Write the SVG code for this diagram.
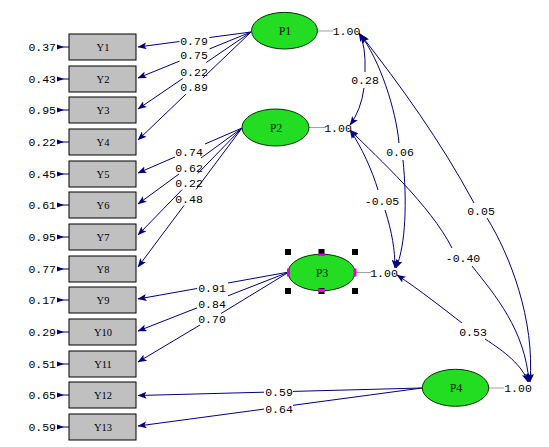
<svg xmlns="http://www.w3.org/2000/svg" width="549" height="447" viewBox="0 0 549 447">
<defs>
<marker id="ah" markerWidth="9" markerHeight="7" refX="8.5" refY="3.5" orient="auto" markerUnits="userSpaceOnUse"><path d="M0,0 L9,3.5 L0,7 L2,3.5 z" fill="#000080"/></marker>
</defs>
<style>
.box{fill:#c0c0c0;stroke:#000;stroke-width:1}
.lat{fill:#22dd22;stroke:#003300;stroke-width:1}
.yl{font-family:"Liberation Serif","Times New Roman",serif;font-size:10.5px;fill:#000;text-anchor:middle}
.pl{font-family:"Liberation Serif","Times New Roman",serif;font-size:12px;fill:#002000;text-anchor:middle}
.num{font-family:"Liberation Mono","Courier New",monospace;font-size:11.5px;fill:#000;text-anchor:middle}
.err{font-family:"Liberation Mono","Courier New",monospace;font-size:11.5px;fill:#000;text-anchor:end}
.ln{fill:none;stroke:#000080;stroke-width:1}
.lna{fill:none;stroke:#000080;stroke-width:1;marker-end:url(#ah)}
.var{fill:none;stroke:#a0a0a0;stroke-width:1}
.eh{fill:#000080}
.h{fill:#000}
.m{fill:#e000e0}
</style>
<g id="connectors">
<!-- P1 loadings -->
<path class="ln" d="M251,32 L209.5,37.5"/><path class="lna" d="M179.5,41.5 L138,47"/>
<path class="ln" d="M251,32 L209.5,48.9"/><path class="lna" d="M179.5,61.1 L138,78"/>
<path class="ln" d="M251,32 L206.2,62.5"/><path class="lna" d="M182.8,78.5 L138,109"/>
<path class="ln" d="M251,32 L202.9,78"/><path class="lna" d="M186.1,94 L138,140"/>
<!-- P2 loadings -->
<path class="ln" d="M242,128 L205,144"/><path class="lna" d="M175,157 L138,173"/>
<path class="ln" d="M242,128 L201,158"/><path class="lna" d="M179,174 L138,204"/>
<path class="ln" d="M242,128 L197.8,173.5"/><path class="lna" d="M182.2,189.5 L138,235"/>
<path class="ln" d="M242,128 L196,189.5"/><path class="lna" d="M184,205.5 L138,267"/>
<!-- P3 loadings -->
<path class="ln" d="M289,272 L228,283"/><path class="lna" d="M197,288.5 L138,299"/>
<path class="ln" d="M289,272 L228,295.8"/><path class="lna" d="M197,307.9 L138,331"/>
<path class="ln" d="M289,272 L221,313.5"/><path class="lna" d="M200,325 L138,362"/>
<!-- P4 loadings -->
<path class="ln" d="M422,388 L293,391.4"/><path class="lna" d="M264,392.2 L138,395.5"/>
<path class="ln" d="M422,388 L293,405.3"/><path class="lna" d="M264,409.1 L138,426"/>
<!-- variance lines -->
<path class="var" d="M318,31 H333"/>
<path class="var" d="M309,127.5 H326"/>
<path class="var" d="M356,272.5 H371"/>
<path class="var" d="M489,388 H504"/>
<!-- covariances -->
<path class="lna" d="M365,72 Q366,45 359,33"/><path class="lna" d="M364,88 Q361,110 350,125"/>
<path class="lna" d="M399,143 C396,110 380,60 360,34"/><path class="lna" d="M403,160 C407,200 406,245 396,268"/>
<path class="lna" d="M378,190 C372,170 362,148 350,130"/><path class="lna" d="M385,210 C392,232 395,250 395,268"/>
<path class="lna" d="M452,248 C430,205 380,160 350,130"/><path class="lna" d="M472,266 C495,295 525,330 529,382"/>
<path class="lna" d="M474,203 C440,140 400,85 361,35"/><path class="lna" d="M487,218 C510,255 535,320 530,382"/>
<path class="lna" d="M462,323 C445,310 420,290 397,275"/><path class="lna" d="M485,339 C505,352 522,365 528,382"/>
<!-- error arrows -->
<g id="errarrows">
<path class="ln" d="M57,47 H69 M57,79 H69 M57,110 H69 M57,142 H69 M57,174 H69 M57,205 H69 M57,237 H69 M57,269 H69 M57,300 H69 M57,332 H69 M57,364 H69 M57,395 H69 M57,427 H69"/>
<path class="eh" d="M57,44.5 L64,47 L57,49.5z M57,76.5 L64,79 L57,81.5z M57,107.5 L64,110 L57,112.5z M57,139.5 L64,142 L57,144.5z M57,171.5 L64,174 L57,176.5z M57,202.5 L64,205 L57,207.5z M57,234.5 L64,237 L57,239.5z M57,266.5 L64,269 L57,271.5z M57,297.5 L64,300 L57,302.5z M57,329.5 L64,332 L57,334.5z M57,361.5 L64,364 L57,366.5z M57,392.5 L64,395 L57,397.5z M57,424.5 L64,427 L57,429.5z"/>
</g>
</g>
<g id="labels">
<text class="num" x="194" y="45">0.79</text>
<text class="num" x="194" y="59">0.75</text>
<text class="num" x="194" y="76">0.22</text>
<text class="num" x="194" y="91">0.89</text>
<text class="num" x="189" y="156">0.74</text>
<text class="num" x="189" y="172">0.62</text>
<text class="num" x="189" y="187">0.22</text>
<text class="num" x="189" y="203">0.48</text>
<text class="num" x="212" y="292">0.91</text>
<text class="num" x="212" y="308">0.84</text>
<text class="num" x="212" y="323">0.70</text>
<text class="num" x="279" y="396">0.59</text>
<text class="num" x="279" y="413">0.64</text>
<text class="num" x="365" y="84">0.28</text>
<text class="num" x="400" y="156">0.06</text>
<text class="num" x="481" y="215">0.05</text>
<text class="num" x="382" y="205">-0.05</text>
<text class="num" x="463" y="262">-0.40</text>
<text class="num" x="473" y="336">0.53</text>
<text class="num" x="346.5" y="35">1.00</text>
<text class="num" x="338" y="132">1.00</text>
<text class="num" x="384" y="277">1.00</text>
<text class="num" x="518" y="392">1.00</text>
</g>
<g id="Y1"><rect class="box" x="69" y="34" width="67" height="26"/><text class="yl" x="103" y="51">Y1</text><text class="err" x="56" y="51">0.37</text></g>
<g id="Y2"><rect class="box" x="69" y="66" width="67" height="26"/><text class="yl" x="103" y="83">Y2</text><text class="err" x="56" y="83">0.43</text></g>
<g id="Y3"><rect class="box" x="69" y="97" width="67" height="26"/><text class="yl" x="103" y="114">Y3</text><text class="err" x="56" y="114">0.95</text></g>
<g id="Y4"><rect class="box" x="69" y="129" width="67" height="26"/><text class="yl" x="103" y="146">Y4</text><text class="err" x="56" y="146">0.22</text></g>
<g id="Y5"><rect class="box" x="69" y="161" width="67" height="26"/><text class="yl" x="103" y="178">Y5</text><text class="err" x="56" y="178">0.45</text></g>
<g id="Y6"><rect class="box" x="69" y="192" width="67" height="26"/><text class="yl" x="103" y="209">Y6</text><text class="err" x="56" y="209">0.61</text></g>
<g id="Y7"><rect class="box" x="69" y="224" width="67" height="26"/><text class="yl" x="103" y="241">Y7</text><text class="err" x="56" y="241">0.95</text></g>
<g id="Y8"><rect class="box" x="69" y="256" width="67" height="26"/><text class="yl" x="103" y="273">Y8</text><text class="err" x="56" y="273">0.77</text></g>
<g id="Y9"><rect class="box" x="69" y="287" width="67" height="26"/><text class="yl" x="103" y="304">Y9</text><text class="err" x="56" y="304">0.17</text></g>
<g id="Y10"><rect class="box" x="69" y="319" width="67" height="26"/><text class="yl" x="103" y="336">Y10</text><text class="err" x="56" y="336">0.29</text></g>
<g id="Y11"><rect class="box" x="69" y="351" width="67" height="26"/><text class="yl" x="103" y="368">Y11</text><text class="err" x="56" y="368">0.51</text></g>
<g id="Y12"><rect class="box" x="69" y="382" width="67" height="26"/><text class="yl" x="103" y="399">Y12</text><text class="err" x="56" y="399">0.65</text></g>
<g id="Y13"><rect class="box" x="69" y="414" width="67" height="26"/><text class="yl" x="103" y="431">Y13</text><text class="err" x="56" y="431">0.59</text></g>
<g id="P1"><ellipse class="lat" cx="284.5" cy="30.7" rx="33" ry="18.3"/><text class="pl" x="285" y="35">P1</text></g>
<g id="P2"><ellipse class="lat" cx="275.5" cy="127.5" rx="33.5" ry="18.5"/><text class="pl" x="276" y="132">P2</text></g>
<g id="P3"><ellipse class="lat" cx="321.5" cy="272.5" rx="33.5" ry="18.3"/><text class="pl" x="322" y="277">P3</text>
<rect class="h" x="285" y="249" width="6" height="6"/><rect class="h" x="318.5" y="249" width="6" height="6"/><rect class="h" x="352" y="249" width="6" height="6"/>
<rect class="h" x="285" y="288" width="6" height="6"/><rect class="h" x="318.5" y="288" width="6" height="6"/><rect class="h" x="352" y="288" width="6" height="6"/>
<rect class="m" x="318" y="253.5" width="7" height="2.5"/><rect class="m" x="318" y="289" width="7" height="3"/>
<rect class="m" x="287" y="268.5" width="3" height="8"/><rect class="m" x="353.5" y="268.5" width="3" height="8"/>
</g>
<g id="P4"><ellipse class="lat" cx="455.5" cy="387.8" rx="33.2" ry="18.5"/><text class="pl" x="456" y="392">P4</text></g>
</svg>
